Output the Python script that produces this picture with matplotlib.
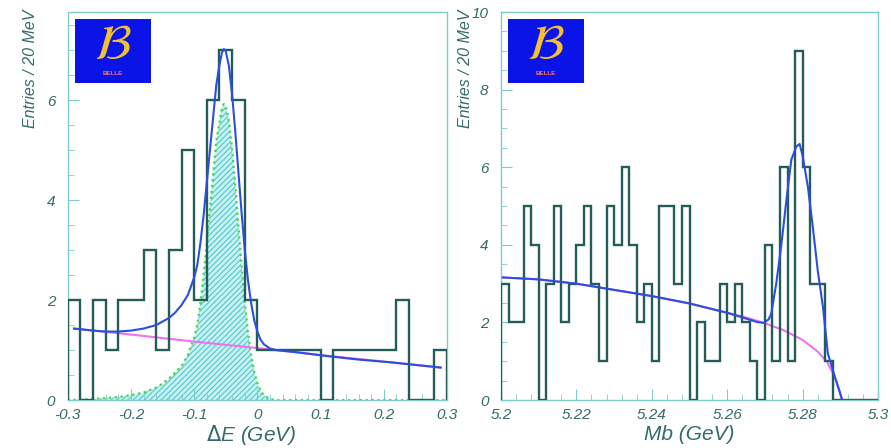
import numpy as np
import matplotlib
matplotlib.use("Agg")
import matplotlib.pyplot as plt
from matplotlib.ticker import MultipleLocator, FixedLocator

plt.rcParams['font.family'] = ['Liberation Sans', 'DejaVu Sans']
plt.rcParams['hatch.linewidth'] = 0.8

# --- Delta E histogram (20 MeV bins from -0.3 to 0.3) ---
de_lo, de_hi = -0.3, 0.3
de_counts = [2, 0, 2, 1, 2, 2, 3, 1, 3, 5,
             2, 6, 7, 6, 2, 1, 1, 1, 1, 1,
             0, 1, 1, 1, 1, 1, 2, 0, 0, 1]

# signal component (green, hatched)
de_sig_x = [-0.30, -0.28, -0.26, -0.24, -0.22, -0.20, -0.18, -0.16, -0.15, -0.14, -0.13,
            -0.12, -0.11, -0.10, -0.095, -0.09, -0.085, -0.08, -0.075, -0.07, -0.065,
            -0.06, -0.056, -0.053, -0.05, -0.045, -0.04, -0.035, -0.03, -0.025, -0.02,
            -0.015, -0.01, -0.005, 0.0, 0.005, 0.01, 0.02, 0.03, 0.30]
de_sig_y = [0.0, 0.01, 0.02, 0.04, 0.06, 0.10, 0.15, 0.25, 0.33, 0.43, 0.55,
            0.68, 0.90, 1.25, 1.50, 1.95, 2.50, 3.15, 3.83, 4.50, 5.18,
            5.55, 5.86, 5.92, 5.88, 5.58, 5.03, 4.30, 3.49, 2.69, 1.97,
            1.37, 0.91, 0.57, 0.34, 0.19, 0.10, 0.02, 0.0, 0.0]

# background component (magenta)
de_bkg_x = [-0.29, -0.2, -0.1, 0.0, 0.1, 0.2, 0.29]
de_bkg_y = [1.43, 1.31, 1.17, 1.04, 0.90, 0.77, 0.65]

# total fit (blue)
de_tot_x = [-0.29, -0.26, -0.24, -0.22, -0.20, -0.18, -0.16, -0.14, -0.13, -0.12, -0.11,
            -0.10, -0.095, -0.09, -0.085, -0.08, -0.075, -0.07, -0.065, -0.06, -0.056,
            -0.053, -0.05, -0.045, -0.04, -0.035, -0.03, -0.025, -0.02, -0.015, -0.01,
            -0.005, 0.0, 0.005, 0.01, 0.02, 0.03, 0.06, 0.11, 0.16, 0.215, 0.29]
de_tot_y = [1.43, 1.39, 1.37, 1.37, 1.39, 1.43, 1.50, 1.64, 1.75, 1.90, 2.10,
            2.45, 2.70, 3.15, 3.70, 4.35, 5.00, 5.65, 6.30, 6.70, 6.95,
            7.02, 6.98, 6.68, 6.12, 5.38, 4.56, 3.75, 3.02, 2.41, 1.95,
            1.60, 1.37, 1.21, 1.12, 1.03, 1.00, 0.96, 0.88, 0.81, 0.75, 0.65]

# --- Mb histogram (2 MeV bins from 5.2 to 5.3) ---
mb_lo, mb_hi = 5.2, 5.3
mb_counts = [3, 2, 2, 5, 4, 0, 3, 5, 2, 3,
             4, 5, 3, 1, 5, 4, 6, 4, 2, 3,
             1, 5, 5, 3, 5, 0, 2, 1, 1, 3,
             2, 3, 2, 1, 0, 4, 1, 6, 1, 9,
             6, 3, 3, 1, 0, 0, 0, 0, 0, 0]

mb_bkg_x = [5.2005, 5.21, 5.22, 5.23, 5.24, 5.25, 5.26, 5.265, 5.27, 5.275,
            5.28, 5.284, 5.2865, 5.2885, 5.2898, 5.2905, 5.3]
mb_bkg_y = [3.16, 3.11, 3.00, 2.84, 2.68, 2.49, 2.25, 2.13, 1.98, 1.80,
            1.55, 1.25, 0.98, 0.60, 0.25, 0.0, 0.0]

mb_tot_x = [5.2005, 5.21, 5.22, 5.23, 5.24, 5.25, 5.26, 5.265, 5.268, 5.2697, 5.271,
            5.2717, 5.273, 5.2743, 5.2757, 5.277, 5.2783, 5.2792, 5.28, 5.2814,
            5.2827, 5.284, 5.2854, 5.2867, 5.2885, 5.2905, 5.3]
mb_tot_y = [3.16, 3.11, 3.00, 2.84, 2.68, 2.49, 2.25, 2.10, 2.01, 1.99, 2.08,
            2.23, 3.00, 3.95, 5.15, 6.19, 6.53, 6.60, 6.30, 5.50,
            4.47, 3.35, 2.40, 1.20, 0.62, 0.0, 0.0]

hist_col = '#235c58'
frame_col = '#7ccccc'
text_col = '#356a68'
blue_col = '#2a4fe0'
mag_col = '#f070f0'

fig = plt.figure(figsize=(8.91, 4.48), dpi=100)
ax1 = fig.add_axes([0.076, 0.107, 0.4257, 0.866])
ax2 = fig.add_axes([0.5623, 0.107, 0.4231, 0.866])


def style_axes(ax):
    for s in ax.spines.values():
        s.set_color(frame_col)
        s.set_linewidth(1.0)
    ax.tick_params(which='both', direction='in', color=frame_col, top=False, right=False,
                   labelcolor=text_col, labelsize=11)
    ax.tick_params(which='major', length=8)
    ax.tick_params(which='minor', length=4)
    ax.tick_params(axis='x', which='major', pad=6)
    ax.tick_params(axis='y', which='major', pad=9)
    for lab in ax.get_xticklabels() + ax.get_yticklabels():
        lab.set_fontstyle('italic')


# left panel
de_edges = np.linspace(de_lo, de_hi, len(de_counts) + 1)
ax1.fill_between(de_sig_x, de_sig_y, color='#c6f3f3', hatch='//////', edgecolor='#58c4cc',
                 linewidth=0, zorder=1)
ax1.plot(de_sig_x, de_sig_y, color='#3ddc3d', ls=':', lw=1.6, zorder=2)
ax1.plot(de_bkg_x, de_bkg_y, color=mag_col, lw=1.5, zorder=3)
ax1.stairs(de_counts, de_edges, color=hist_col, lw=1.7, zorder=4)
ax1.plot(de_tot_x, de_tot_y, color=blue_col, lw=1.5, zorder=5)
ax1.set_xlim(de_lo, de_hi)
ax1.set_ylim(0, 7.76)
ax1.xaxis.set_major_locator(FixedLocator([-0.3, -0.2, -0.1, 0.0, 0.1, 0.2, 0.3]))
ax1.xaxis.set_minor_locator(MultipleLocator(0.02))
ax1.yaxis.set_major_locator(FixedLocator([0, 2, 4, 6]))
ax1.yaxis.set_minor_locator(MultipleLocator(0.5))
ax1.set_xticklabels(['-0.3', '-0.2', '-0.1', '0', '0.1', '0.2', '0.3'])
ax1.set_yticklabels(['0', '2', '4', '6'])
style_axes(ax1)

# right panel
mb_edges = np.linspace(mb_lo, mb_hi, len(mb_counts) + 1)
ax2.plot(mb_bkg_x, mb_bkg_y, color=mag_col, lw=1.5, zorder=3)
ax2.stairs(mb_counts, mb_edges, color=hist_col, lw=1.7, zorder=4)
ax2.plot(mb_tot_x, mb_tot_y, color=blue_col, lw=1.5, zorder=5)
ax2.set_xlim(mb_lo, mb_hi)
ax2.set_ylim(0, 10)
ax2.xaxis.set_major_locator(FixedLocator([5.2, 5.22, 5.24, 5.26, 5.28, 5.3]))
ax2.xaxis.set_minor_locator(MultipleLocator(0.004))
ax2.yaxis.set_major_locator(FixedLocator([0, 2, 4, 6, 8, 10]))
ax2.yaxis.set_minor_locator(MultipleLocator(0.5))
ax2.set_xticklabels(['5.2', '5.22', '5.24', '5.26', '5.28', '5.3'])
ax2.set_yticklabels(['0', '2', '4', '6', '8', '10'])
style_axes(ax2)

# axis titles
fig.text(0.282, 0.03, r'$\Delta$E (GeV)', ha='center', va='center', fontsize=15,
         style='italic', color=text_col)
fig.text(0.774, 0.03, 'Mb (GeV)', ha='center', va='center', fontsize=15,
         style='italic', color=text_col)
for xpos in (0.034, 0.522):
    fig.text(xpos, 0.978, 'Entries / 20 MeV', rotation=90, ha='center', va='top',
             fontsize=11.5, style='italic', color=text_col)

# Belle logos
for lx in (0.0842, 0.5701):
    lax = fig.add_axes([lx, 0.8147, 0.0853, 0.1429])
    lax.set_facecolor('#0a14e6')
    lax.set_xticks([])
    lax.set_yticks([])
    for s in lax.spines.values():
        s.set_visible(False)
    lax.text(0.5, 0.58, r'$\mathcal{B}$', ha='center', va='center', fontsize=36,
             color='#f2c030', transform=lax.transAxes)
    lax.text(0.5, 0.15, 'BELLE', ha='center', va='center', fontsize=4.5,
             color='#ff7070', fontweight='bold', transform=lax.transAxes)

plt.savefig('out.png', dpi=100)
